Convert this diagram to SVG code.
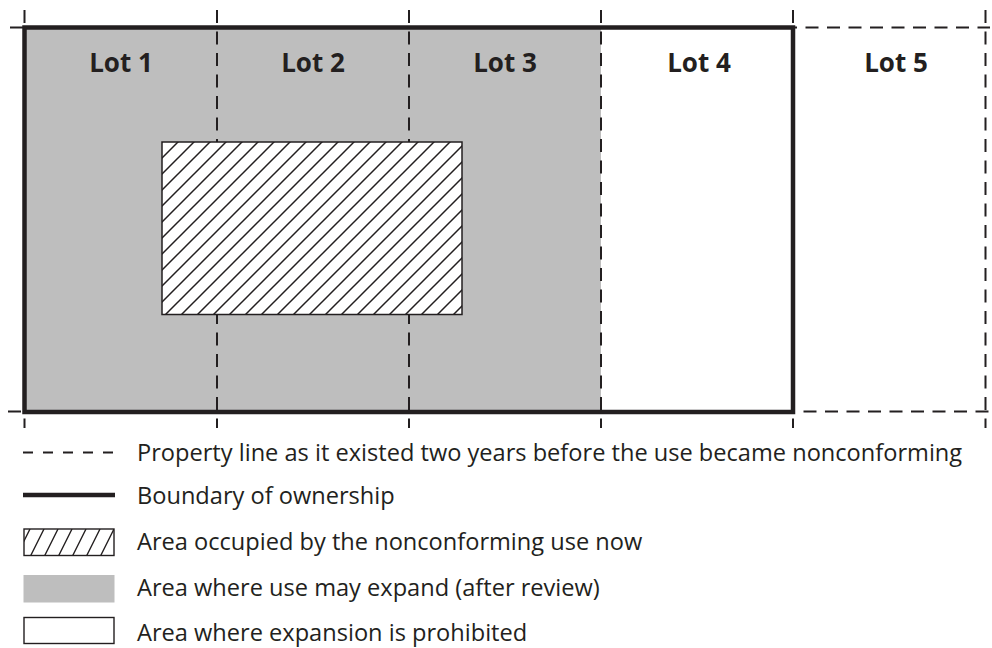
<svg xmlns="http://www.w3.org/2000/svg" width="992" height="648" viewBox="0 0 992 648">
<defs>
<style>
.prop{stroke:#231f20;stroke-width:2;stroke-dasharray:13 8.5;fill:none}
.own{stroke:#231f20;stroke-width:4.5;fill:none}
.lot{font-family:"Open Sans","Noto Sans",sans-serif;font-weight:bold;font-size:26px;fill:#231f20;text-anchor:middle}
.leg{font-family:"Open Sans","Noto Sans",sans-serif;font-size:23.6px;fill:#231f20}
.gray{fill:#bebebe}
</style>
<pattern id="hatch" patternUnits="userSpaceOnUse" width="16" height="16" x="162" y="142">
<path d="M-4,4 L4,-4 M0,16 L16,0 M12,20 L20,12" stroke="#231f20" stroke-width="1.5"/>
</pattern>
<pattern id="hatch2" patternUnits="userSpaceOnUse" width="14" height="28" x="23" y="529">
<path d="M-7,28 L7,0 M7,28 L21,0" stroke="#231f20" stroke-width="1.4"/>
</pattern>
</defs>
<rect width="992" height="648" fill="#ffffff"/>
<g id="expand-area"><rect class="gray" x="24.5" y="27.5" width="576.5" height="384.5"/></g>
<g id="property-lines">
<line class="prop" x1="24.5" y1="10" x2="24.5" y2="428"/>
<line class="prop" x1="217" y1="10" x2="217" y2="428"/>
<line class="prop" x1="409" y1="10" x2="409" y2="428"/>
<line class="prop" x1="601" y1="10" x2="601" y2="428"/>
<line class="prop" x1="793" y1="10" x2="793" y2="428"/>
<line class="prop" x1="985.5" y1="10" x2="985.5" y2="428"/>
<line class="prop" x1="10" y1="27.5" x2="990" y2="27.5"/>
<line class="prop" x1="8" y1="411.5" x2="990" y2="411.5"/>
</g>
<g id="ownership"><rect class="own" x="24.5" y="27.5" width="768.5" height="384.5"/></g>
<g id="nonconforming-use"><rect x="162" y="142" width="300" height="172.5" fill="#ffffff"/><rect x="162" y="142" width="300" height="172.5" fill="url(#hatch)" stroke="#231f20" stroke-width="1.5"/></g>
<g id="lot-labels">
<text class="lot" x="121" y="72">Lot 1</text>
<text class="lot" x="313" y="72">Lot 2</text>
<text class="lot" x="505" y="72">Lot 3</text>
<text class="lot" x="699" y="72">Lot 4</text>
<text class="lot" x="896" y="72">Lot 5</text>
</g>
<g id="legend">
<line x1="23" y1="452.5" x2="115" y2="452.5" stroke="#231f20" stroke-width="2" stroke-dasharray="10 10"/>
<text class="leg" x="137" y="461">Property line as it existed two years before the use became nonconforming</text>
<line x1="23" y1="495" x2="115" y2="495" stroke="#231f20" stroke-width="4.5"/>
<text class="leg" x="137" y="504">Boundary of ownership</text>
<rect x="24" y="529" width="90" height="26.5" fill="url(#hatch2)" stroke="#231f20" stroke-width="1.4"/>
<text class="leg" x="137" y="550">Area occupied by the nonconforming use now</text>
<rect class="gray" x="23.5" y="575" width="91" height="27.5"/>
<text class="leg" x="137" y="596">Area where use may expand (after review)</text>
<rect x="24" y="617.5" width="90" height="26" fill="#ffffff" stroke="#231f20" stroke-width="1.4"/>
<text class="leg" x="137" y="641">Area where expansion is prohibited</text>
</g>
</svg>
